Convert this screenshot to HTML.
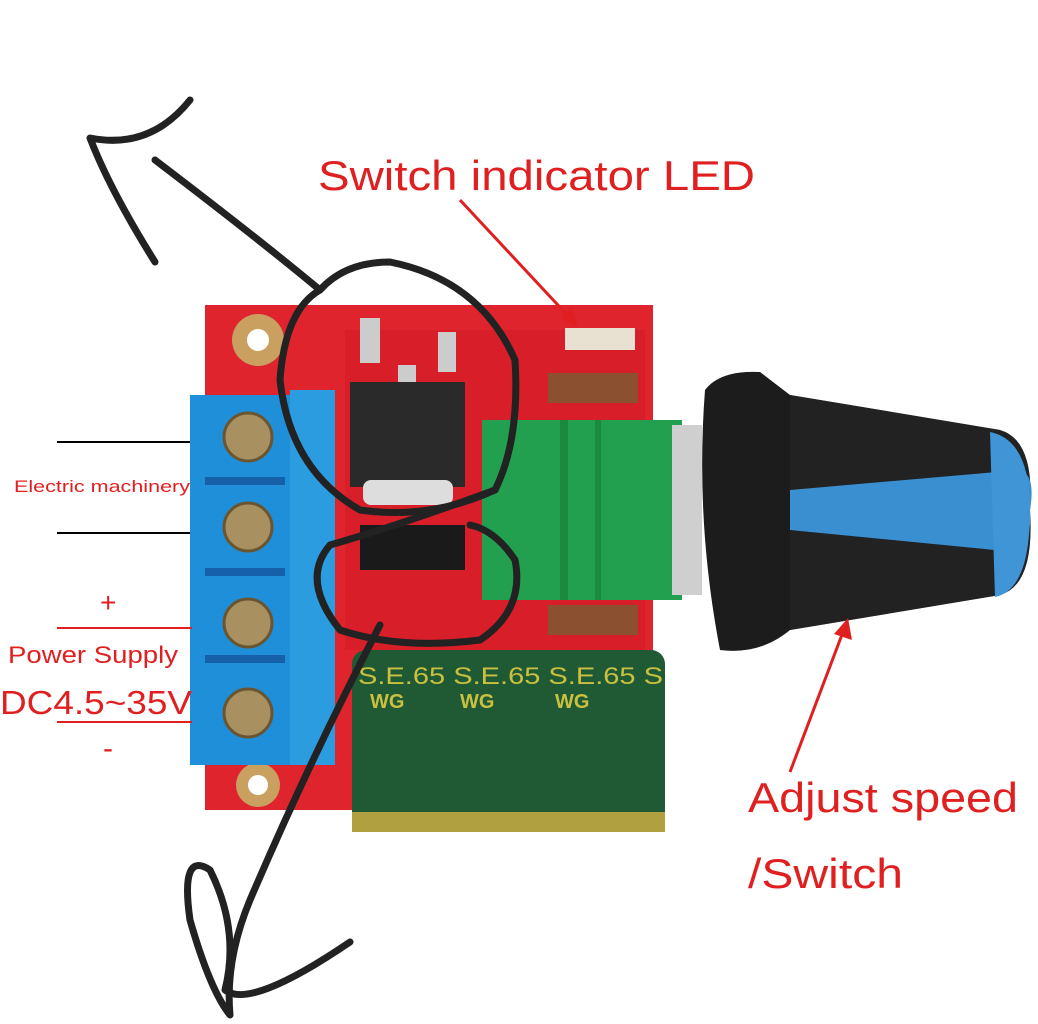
<!DOCTYPE html>
<html><head><meta charset="utf-8"><style>
html,body{margin:0;padding:0;background:#fff;}
svg{display:block;}
text{font-family:"Liberation Sans",sans-serif;}
</style></head><body>
<svg width="1038" height="1024" viewBox="0 0 1038 1024" xmlns="http://www.w3.org/2000/svg">
<rect width="1038" height="1024" fill="#fff"/>
<rect x="205" y="305" width="448" height="505" fill="#e0242e"/>
<rect x="345" y="330" width="300" height="320" fill="#d81e28"/>
<circle cx="258" cy="340" r="26" fill="#c9a060"/><circle cx="258" cy="340" r="11" fill="#fff"/>
<circle cx="258" cy="785" r="22" fill="#c9a060"/><circle cx="258" cy="785" r="10" fill="#fff"/>
<rect x="360" y="318" width="20" height="45" fill="#ccc"/>
<rect x="438" y="332" width="18" height="40" fill="#ccc"/>
<rect x="398" y="365" width="18" height="20" fill="#ccc"/>
<rect x="350" y="382" width="115" height="105" fill="#2a2a2a"/>
<rect x="363" y="480" width="90" height="25" rx="8" fill="#ddd"/>
<rect x="360" y="525" width="105" height="45" fill="#1a1a1a"/>
<rect x="565" y="328" width="70" height="22" fill="#e8e0d0"/>
<rect x="548" y="373" width="90" height="30" fill="#8a5030"/>
<rect x="548" y="605" width="90" height="30" fill="#8a5030"/>
<rect x="482" y="420" width="200" height="180" fill="#22a050"/>
<rect x="560" y="420" width="8" height="180" fill="#1a8a40"/>
<rect x="595" y="420" width="6" height="180" fill="#1a8a40"/>
<rect x="672" y="425" width="30" height="170" fill="#cfcfcf"/>
<path d="M705 390 Q720 370 760 372 L790 395 L1000 430 Q1015 510 1000 595 L790 630 Q760 655 720 650 Q695 520 705 390Z" fill="#1c1c1c"/>
<path d="M790 395 L1000 430 Q1035 440 1030 510 Q1035 585 1000 595 L790 630 Z" fill="#222"/>
<path d="M790 490 L1020 470 Q1036 475 1030 510 Q1032 545 1015 552 L790 530 Z" fill="#3a8fd0"/>
<path d="M990 432 Q1030 440 1030 510 Q1030 590 995 597 L990 432Z" fill="#3f95d6"/>
<rect x="352" y="650" width="313" height="180" rx="14" fill="#1f5a34"/>
<rect x="352" y="812" width="313" height="20" fill="#b0a040"/>
<text x="358" y="684" font-size="24" fill="#c9c040" textLength="305" lengthAdjust="spacingAndGlyphs">S.E.65 S.E.65 S.E.65 S</text>
<text x="370" y="708" font-size="20" font-weight="bold" fill="#c9c040">WG</text>
<text x="460" y="708" font-size="20" font-weight="bold" fill="#c9c040">WG</text>
<text x="555" y="708" font-size="20" font-weight="bold" fill="#c9c040">WG</text>
<rect x="190" y="395" width="145" height="370" fill="#1e8fd8"/>
<rect x="290" y="390" width="45" height="375" fill="#2b9ce0"/>
<g fill="#1560a8"><rect x="205" y="477" width="80" height="8"/><rect x="205" y="568" width="80" height="8"/><rect x="205" y="655" width="80" height="8"/></g>
<g fill="#a89060" stroke="#6a5530" stroke-width="3">
<circle cx="248" cy="437" r="24"/><circle cx="248" cy="527" r="24"/><circle cx="248" cy="623" r="24"/><circle cx="248" cy="713" r="24"/></g>
<line x1="57" y1="442" x2="190" y2="442" stroke="#000" stroke-width="2"/>
<line x1="57" y1="533" x2="190" y2="533" stroke="#000" stroke-width="2"/>
<line x1="57" y1="628" x2="192" y2="628" stroke="#e02020" stroke-width="2"/>
<line x1="57" y1="722" x2="192" y2="722" stroke="#e02020" stroke-width="2"/>
<text x="14" y="492" font-size="17" fill="#e02020" textLength="176" lengthAdjust="spacingAndGlyphs">Electric machinery</text>
<text x="100" y="612" font-size="28" fill="#e02020">+</text>
<text x="8" y="663" font-size="24" fill="#e02020" textLength="170" lengthAdjust="spacingAndGlyphs">Power Supply</text>
<text x="0" y="714" font-size="33" fill="#e02020" textLength="192" lengthAdjust="spacingAndGlyphs">DC4.5~35V</text>
<text x="103" y="758" font-size="30" fill="#e02020">-</text>
<text x="318" y="190" font-size="42" fill="#e02020" textLength="437" lengthAdjust="spacingAndGlyphs">Switch indicator LED</text>
<line x1="460" y1="200" x2="570" y2="318" stroke="#e02020" stroke-width="3"/>
<polygon points="578,328 560,318 572,306" fill="#e02020"/>
<text x="748" y="812" font-size="42" fill="#e02020" textLength="270" lengthAdjust="spacingAndGlyphs">Adjust speed</text>
<text x="748" y="888" font-size="42" fill="#e02020" textLength="155" lengthAdjust="spacingAndGlyphs">/Switch</text>
<line x1="790" y1="772" x2="843" y2="632" stroke="#e02020" stroke-width="3"/>
<polygon points="848,618 852,640 834,634" fill="#e02020"/>
<g fill="none" stroke="#222" stroke-width="7" stroke-linecap="round" stroke-linejoin="round">
<path d="M155 262 Q110 190 90 138 Q150 150 190 100"/>
<path d="M155 160 Q260 240 320 290 Q345 262 390 262 Q480 280 515 360 Q520 440 495 490 Q430 520 360 510 Q290 470 280 380 Q285 310 320 290"/>
<path d="M495 490 Q400 525 330 545 Q300 580 340 630 Q400 650 480 640 Q525 610 515 560 Q495 530 470 525"/>
<path d="M380 625 Q310 760 250 900 Q225 960 230 1015 Q210 990 190 920 Q180 850 210 870 Q240 930 225 990 Q250 1010 350 942"/>
</g>
</svg>
</body></html>
